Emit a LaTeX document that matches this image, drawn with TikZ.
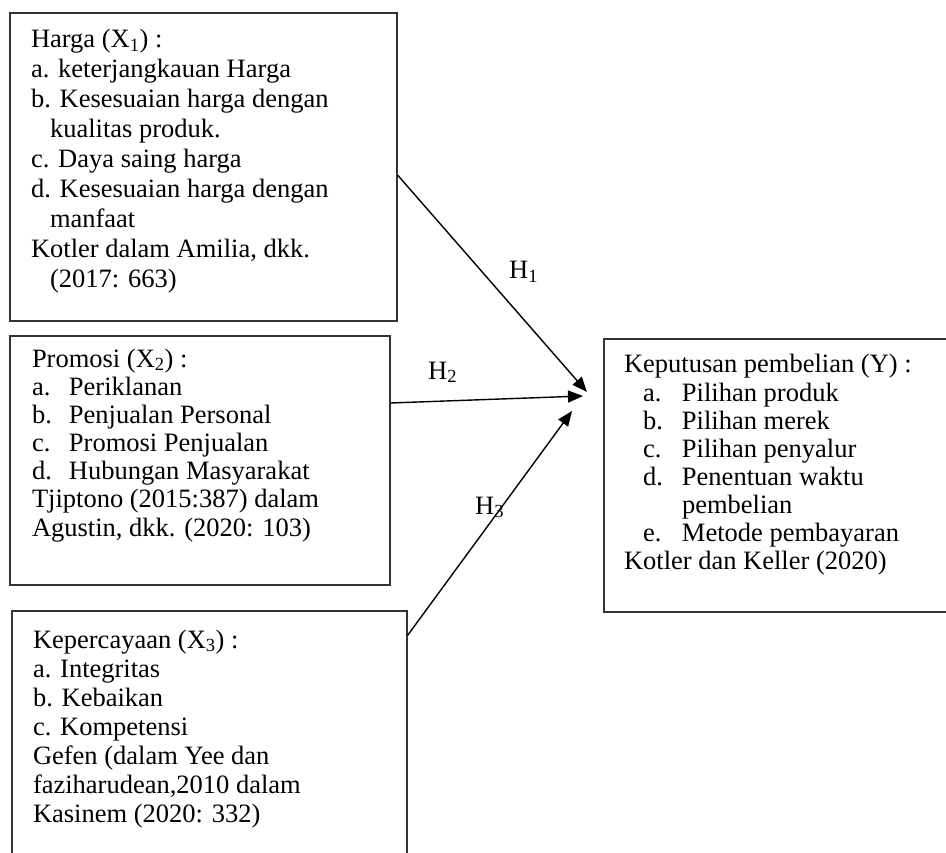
\documentclass[tikz,border=0pt]{standalone}
\usepackage{fontspec}
\setmainfont{Liberation Serif}
\usetikzlibrary{arrows.meta}
\begin{document}
\begin{tikzpicture}[x=1pt,y=-1pt,
  box/.style={draw=black!80, line width=1.1pt, fill=none, inner sep=0pt},
  txt/.style={anchor=base west, inner sep=0pt, outer sep=0pt},
  lbl/.style={anchor=base west, inner sep=0pt, font=\fontsize{26.5}{30}\selectfont},
  arr/.style={line width=1.4pt, -{Triangle[length=15pt,width=12pt]}}]
\useasboundingbox (0,0) rectangle (946,853);
\clip (0,0) rectangle (946,853);
\fill[white] (0,0) rectangle (946,853);

% boxes
\node[box, minimum width=387pt, minimum height=308pt] (x1) at (203.5,167) {};
\node[box, minimum width=380pt, minimum height=249pt] (x2) at (200,460.5) {};
\node[box, minimum width=395pt, minimum height=280pt] (x3) at (209.5,751) {};
\node[box, minimum width=360pt, minimum height=273pt] (y) at (784,475.5) {};

% texts
\node[txt] (x1t) at (31,48) {\fontsize{26.5}{30}\selectfont\begin{tabular}[t]{@{}l@{}}
Harga (X\textsubscript{1}) :\\
a. keterjangkauan Harga\\
b. Kesesuaian harga dengan\\
\hspace*{19pt}kualitas produk.\\
c. Daya saing harga\\
d. Kesesuaian harga dengan\\
\hspace*{19pt}manfaat\\
Kotler dalam Amilia, dkk.\\
\hspace*{19pt}(2017: 663)
\end{tabular}};

\node[txt] (x2t) at (32,367) {\fontsize{26.5}{28.2}\selectfont\begin{tabular}[t]{@{}l@{}}
Promosi (X\textsubscript{2}) :\\
\makebox[37pt][l]{a.}Periklanan\\
\makebox[37pt][l]{b.}Penjualan Personal\\
\makebox[37pt][l]{c.}Promosi Penjualan\\
\makebox[37pt][l]{d.}Hubungan Masyarakat\\
Tjiptono (2015:387) dalam\\
Agustin, dkk. (2020: 103)
\end{tabular}};

\node[txt] (x3t) at (33,648) {\fontsize{26.5}{29}\selectfont\begin{tabular}[t]{@{}l@{}}
Kepercayaan (X\textsubscript{3}) :\\
a. Integritas\\
b. Kebaikan\\
c. Kompetensi\\
Gefen (dalam Yee dan\\
faziharudean,2010 dalam\\
Kasinem (2020: 332)
\end{tabular}};

\node[txt] (yt) at (624,373) {\fontsize{26.5}{28.1}\selectfont\begin{tabular}[t]{@{}l@{}}
Keputusan pembelian (Y) :\\
\hspace*{19pt}\makebox[39pt][l]{a.}Pilihan produk\\
\hspace*{19pt}\makebox[39pt][l]{b.}Pilihan merek\\
\hspace*{19pt}\makebox[39pt][l]{c.}Pilihan penyalur\\
\hspace*{19pt}\makebox[39pt][l]{d.}Penentuan waktu\\
\hspace*{58pt}pembelian\\
\hspace*{19pt}\makebox[39pt][l]{e.}Metode pembayaran\\
Kotler dan Keller (2020)
\end{tabular}};

% arrow end points
\coordinate (t1) at (587,392);
\coordinate (t2) at (583,396);
\coordinate (t3) at (572,411);

\draw[arr] ([yshift=-8pt]x1.east) -- (t1);
\draw[arr] ([yshift=57.5pt]x2.east) -- (t2);
\draw[arr] ([yshift=-25pt]x3.north east) -- (t3);

% labels
\node[lbl] (h1) at (509,279) {H\textsubscript{1}};
\node[lbl] (h2) at (428,379) {H\textsubscript{2}};
\node[lbl] (h3) at (475,514) {H\textsubscript{3}};
\end{tikzpicture}
\end{document}
